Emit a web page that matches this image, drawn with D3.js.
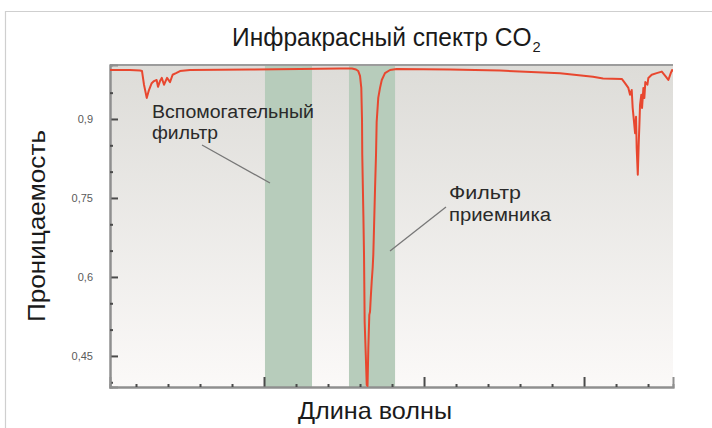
<!DOCTYPE html>
<html><head><meta charset="utf-8">
<script src="https://cdn.jsdelivr.net/npm/d3@7/dist/d3.min.js"></script>
<style>html,body{margin:0;padding:0;background:#fff;}svg{display:block;font-family:"Liberation Sans",Arial,sans-serif;}</style>
</head><body><svg id="c" width="712" height="428"></svg>
<script>
// ---- data ----
const wavelength = [2.0375,2.1625,2.225,2.2375,2.25,2.267,2.281,2.298,2.3125,2.329,2.3375,2.35,2.361,2.375,2.394,2.4125,2.429,2.45,2.475,2.5375,2.9125,3.225,3.475,3.55,3.575,3.589,3.6,3.608,3.6125,3.614,3.621,3.625,3.629,3.636,3.642,3.647,3.652,3.658,3.6625,3.667,3.673,3.679,3.683,3.6875,3.694,3.7,3.704,3.714,3.725,3.736,3.756,3.7875,3.829,4.1625,4.475,4.85,5.056,5.119,5.236,5.256,5.277,5.2875,5.298,5.304,5.3125,5.319,5.325,5.329,5.336,5.342,5.346,5.35,5.358,5.3625,5.371,5.377,5.383,5.396,5.402,5.423,5.454,5.486,5.5125,5.527,5.542,5.55,5.556];
const transmittance = [0.993,0.993,0.992,0.991,0.965,0.940,0.955,0.968,0.972,0.974,0.961,0.972,0.978,0.965,0.978,0.970,0.984,0.987,0.991,0.993,0.994,0.995,0.996,0.996,0.994,0.991,0.982,0.959,0.898,0.832,0.718,0.642,0.515,0.452,0.395,0.393,0.465,0.528,0.534,0.560,0.591,0.617,0.642,0.693,0.769,0.832,0.894,0.940,0.959,0.974,0.987,0.993,0.995,0.994,0.992,0.987,0.980,0.977,0.976,0.968,0.959,0.946,0.955,0.921,0.894,0.873,0.904,0.845,0.794,0.856,0.889,0.927,0.946,0.921,0.959,0.940,0.970,0.965,0.978,0.984,0.987,0.990,0.980,0.974,0.987,0.993,0.990];
const filterNames = ["Вспомогательный фильтр","Фильтр приемника"];
const filterStart = [3.006,3.531];
const filterEnd   = [3.3,3.819];
const yMajorTicks = [0.45,0.6,0.75,0.9];
const yMinorTicks = [0.4,0.5,0.55,0.65,0.7,0.8,0.85,0.95];
const xMajorTicks = [3,4,5];
const xMinorTicks = [2.2,2.4,2.6,2.8,3.2,3.4,3.6,3.8,4.2,4.4,4.6,4.8,5.2,5.4];
const xDomain = [2.0375,5.556];
const yDomain = [0.391,1.0025];
const titleText = "Инфракрасный спектр CO";
const titleSub = "2";
const xLabel = "Длина волны";
const yLabel = "Проницаемость";

// ---- layout ----
const svg = d3.select("#c");
const L = 110, R = 673, T = 65, B = 387;
const x = d3.scaleLinear().domain(xDomain).range([L, R]);
const y = d3.scaleLinear().domain(yDomain).range([B, T]);

// outer frame
svg.append("path").attr("d","M5.5,428 V11.5 H712").attr("fill","none").attr("stroke","#cfcfcf").attr("stroke-width",1.2);

const defs = svg.append("defs");
const g = defs.append("linearGradient").attr("id","bg").attr("x1",0).attr("x2",0).attr("y1",0).attr("y2",1);
g.append("stop").attr("offset","0%").attr("stop-color","#dddcd8");
g.append("stop").attr("offset","100%").attr("stop-color","#fbf9f8");
defs.append("clipPath").attr("id","clip").append("rect").attr("x",L).attr("y",T).attr("width",R-L).attr("height",B-T);

svg.append("rect").attr("x",L).attr("y",T).attr("width",R-L).attr("height",B-T).attr("fill","url(#bg)");

// filter bands
svg.append("g").selectAll("rect").data(filterStart).join("rect")
  .attr("x",(d)=>x(d)).attr("y",T).attr("width",(d,i)=>x(filterEnd[i])-x(d)).attr("height",B-T)
  .attr("fill","#b7ccbb");

// top border
svg.append("line").attr("x1",L).attr("x2",R).attr("y1",T).attr("y2",T).attr("stroke","#9c9c9c").attr("stroke-width",2);

// axes
const fmt = d => String(d).replace(".", ",");
const ya = svg.append("g").attr("transform",`translate(${L},0)`)
  .call(d3.axisLeft(y).tickValues(yMajorTicks).tickSize(-8).tickPadding(17).tickFormat(fmt));
const ym = svg.append("g").attr("transform",`translate(${L},0)`)
  .call(d3.axisLeft(y).tickValues(yMinorTicks).tickSize(-3).tickFormat(""));
const xa = svg.append("g").attr("transform",`translate(0,${B})`)
  .call(d3.axisBottom(x).tickValues(xMajorTicks).tickSize(-10).tickFormat(""));
const xm = svg.append("g").attr("transform",`translate(0,${B})`)
  .call(d3.axisBottom(x).tickValues(xMinorTicks).tickSize(-3).tickFormat(""));
[ya,ym,xa,xm].forEach(a=>{
  a.select(".domain").attr("stroke","#8f8f8f").attr("stroke-width",2);
  a.selectAll(".tick line").attr("stroke","#4a4a4a").attr("stroke-width",2);
});
ya.selectAll(".tick text").attr("font-size",11).attr("fill","#5a5a5a").attr("font-family","Liberation Sans, Arial, sans-serif");

// spectrum line
const pts = wavelength.map((w,i)=>[w,transmittance[i]]);
svg.append("path").datum(pts).attr("clip-path","url(#clip)")
  .attr("d", d3.line().x(d=>x(d[0])).y(d=>y(d[1])))
  .attr("fill","none").attr("stroke","#e8472f").attr("stroke-width",2).attr("stroke-linejoin","round");

// annotations
const ann = svg.append("g").attr("font-size",18).attr("fill","#2a2a2a");
ann.append("text").attr("x",152).attr("y",118).text(filterNames[0].split(" ")[0]).attr("textLength",162).attr("lengthAdjust","spacingAndGlyphs");
ann.append("text").attr("x",152).attr("y",139).text(filterNames[0].split(" ")[1]).attr("textLength",66).attr("lengthAdjust","spacingAndGlyphs");
ann.append("text").attr("x",449).attr("y",199).text(filterNames[1].split(" ")[0]).attr("textLength",72).attr("lengthAdjust","spacingAndGlyphs");
ann.append("text").attr("x",449).attr("y",221).text(filterNames[1].split(" ")[1]).attr("textLength",102).attr("lengthAdjust","spacingAndGlyphs");
svg.append("line").attr("x1",202).attr("y1",145).attr("x2",270).attr("y2",183).attr("stroke","#777").attr("stroke-width",1.3);
svg.append("line").attr("x1",446).attr("y1",207).attr("x2",390).attr("y2",251).attr("stroke","#777").attr("stroke-width",1.3);

// title (single text element with subscript tspan, horizontally fitted)
const title = svg.append("text").attr("font-size",25).attr("fill","#1a1a1a");
title.append("tspan").text(titleText);
title.append("tspan").attr("font-size",15).attr("dy",6).attr("dx",1).text(titleSub);
const tw = title.node().getComputedTextLength();
title.attr("transform",`translate(232,46) scale(${308/tw},1)`);

// axis labels
svg.append("text").attr("x",298).attr("y",419).attr("font-size",24).attr("fill","#1a1a1a")
  .attr("textLength",154).attr("lengthAdjust","spacingAndGlyphs").text(xLabel);
svg.append("text").attr("transform","translate(45,322) rotate(-90)").attr("font-size",24).attr("fill","#1a1a1a")
  .attr("textLength",192).attr("lengthAdjust","spacingAndGlyphs").text(yLabel);
</script></body></html>
